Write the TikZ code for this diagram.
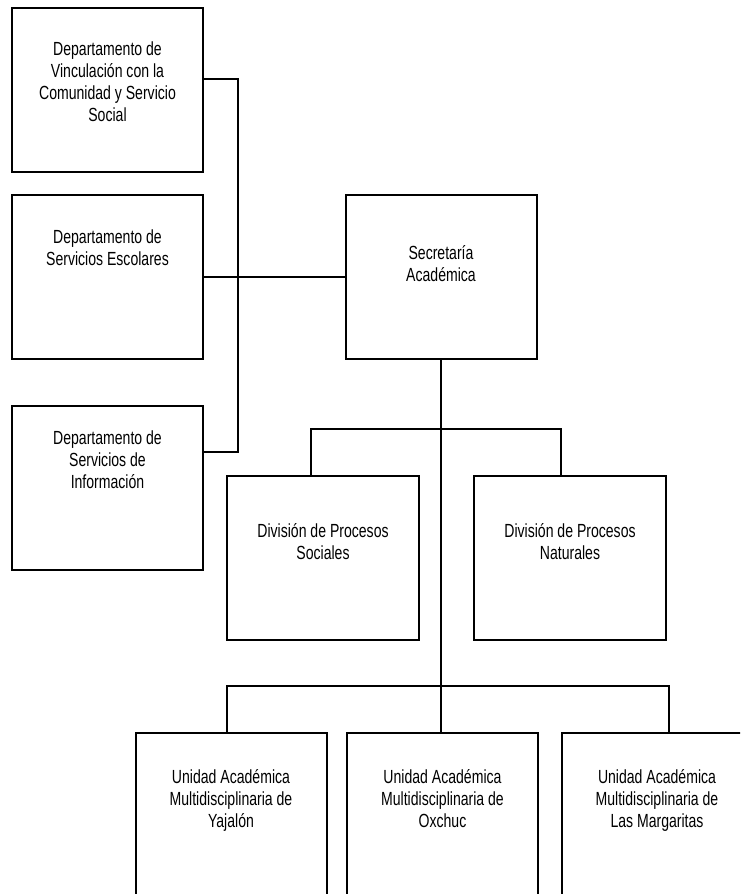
\documentclass[tikz,border=0pt]{standalone}
\usepackage{fontspec}
\setmainfont{Liberation Sans}[FakeStretch=0.74]
\usetikzlibrary{positioning}

\begin{document}
\begin{tikzpicture}[x=1pt,y=-1pt,
        box/.style={draw,line width=2pt,minimum width=191pt,minimum height=164pt,inner sep=0pt},
        lbl/.style={inner sep=0pt,align=center,font=\fontsize{19}{22}\selectfont},
        conn/.style={line width=1.8pt}]
    \useasboundingbox (0,0) rectangle (740,894);
    \clip (0,0) rectangle (740,894);

    % departamentos
    \node[box] (vin) at (107.5,90) {};
    \node[lbl,below=35pt of vin.north] (vin-t) {Departamento de\\Vinculación con la\\Comunidad y Servicio\\Social};
    \node[box] (esc) at (107.5,277) {};
    \node[lbl,below=36pt of esc.north] (esc-t) {Departamento de\\Servicios Escolares};
    \node[box] (inf) at (107.5,487.5) {};
    \node[lbl,below=26pt of inf.north] (inf-t) {Departamento de\\Servicios de\\Información};

    % secretaria y divisiones
    \node[box] (sec) at (441,277) {};
    \node[lbl,below=51pt of sec.north] (sec-t) {Secretaría\\Académica};
    \node[box,minimum width=192pt] (soc) at (323,557.5) {};
    \node[lbl,below=49pt of soc.north] (soc-t) {División de Procesos\\Sociales};
    \node[box,minimum width=192pt] (nat) at (570,557.5) {};
    \node[lbl,below=49pt of nat.north] (nat-t) {División de Procesos\\Naturales};

    % unidades
    \node[box] (yaj) at (231,815) {};
    \node[lbl,below=37pt of yaj.north] (yaj-t) {Unidad Académica\\Multidisciplinaria de\\Yajalón};
    \node[box] (oxc) at (442.5,815) {};
    \node[lbl,below=37pt of oxc.north] (oxc-t) {Unidad Académica\\Multidisciplinaria de\\Oxchuc};
    \node[box] (mar) at (657,815) {};
    \node[lbl,below=37pt of mar.north] (mar-t) {Unidad Académica\\Multidisciplinaria de\\Las Margaritas};

    % lineas
    \coordinate (lbus) at (238,277);
    \coordinate (divbar) at (441,429);
    \coordinate (unibar) at (441,686);
    \draw[conn] ([yshift=11pt]vin.east) -| (lbus) |- ([yshift=35.5pt]inf.east);
    \draw[conn] (esc.east) -- (sec.west);
    \draw[conn] (sec.south) -- (sec.south |- oxc.north);
    \draw[conn] ([xshift=-12pt]soc.north) |- (divbar) -| ([xshift=-9pt]nat.north);
    \draw[conn] ([xshift=-4pt]yaj.north) |- (unibar) -| ([xshift=12pt]mar.north);
\end{tikzpicture}
\end{document}
